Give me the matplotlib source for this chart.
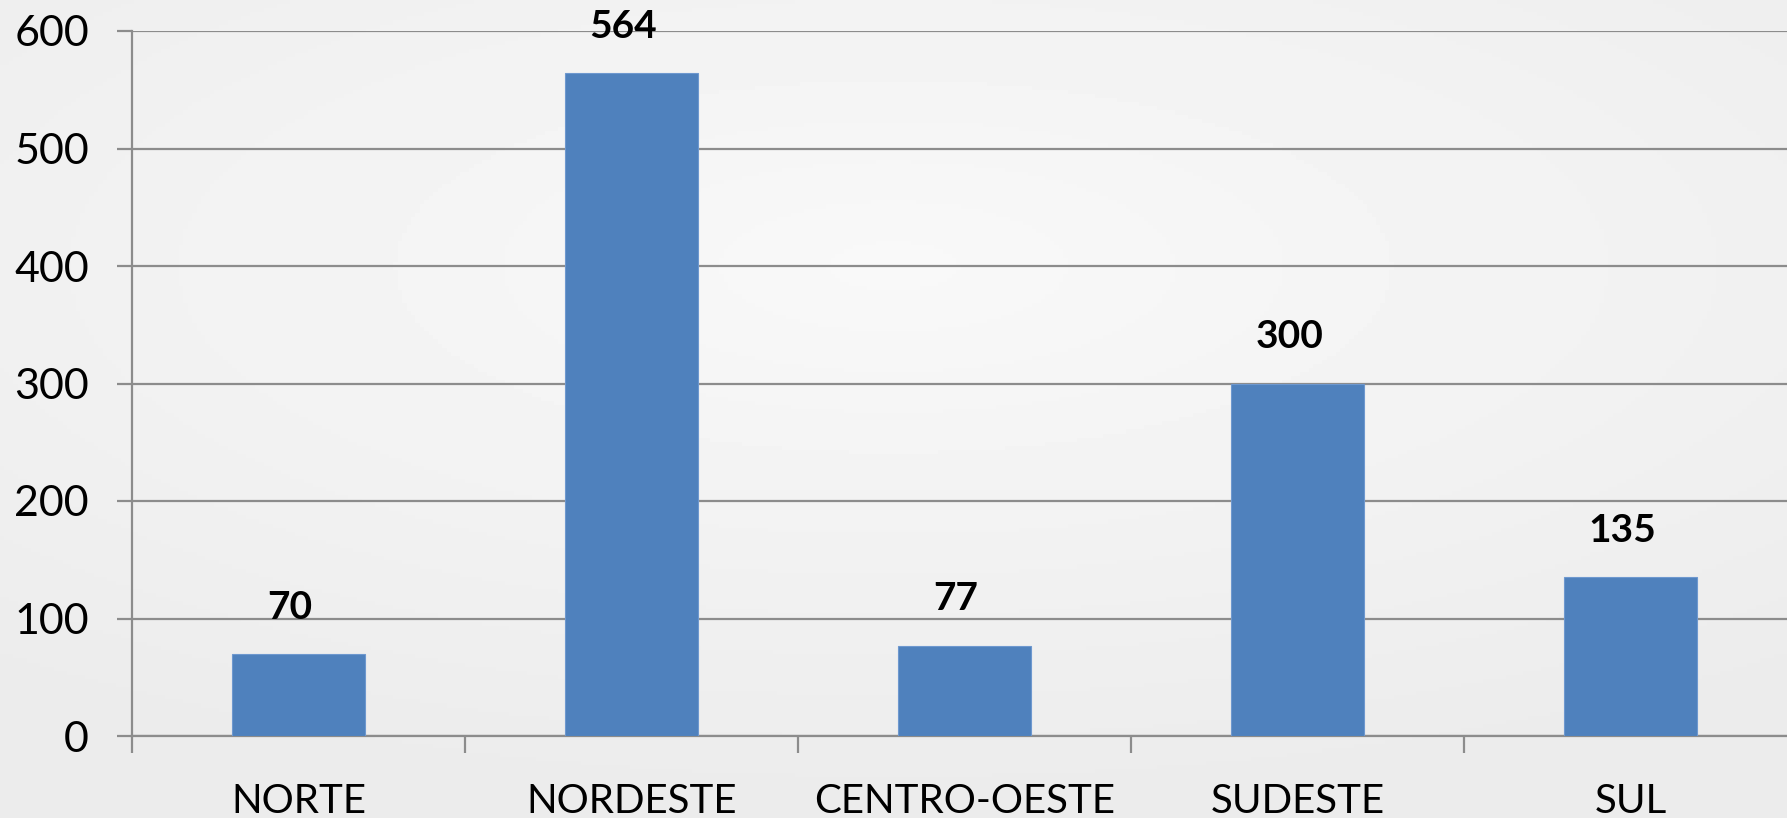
import numpy as np
import matplotlib
matplotlib.use("Agg")
import matplotlib.pyplot as plt

# Data
regions = ["NORTE", "NORDESTE", "CENTRO-OESTE", "SUDESTE", "SUL"]
counts = [70, 564, 77, 300, 135]
y_ticks = [0, 100, 200, 300, 400, 500, 600]

bar_color = "#4F81BD"
grid_color = "#8C8C8C"

plt.rcParams['font.family'] = ['Lato', 'DejaVu Sans']

fig = plt.figure(figsize=(17.87, 8.18), dpi=100)

# radial grey background
bg = fig.add_axes([0, 0, 1, 1], zorder=-10)
xx, yy = np.meshgrid(np.linspace(-1, 1, 400), np.linspace(-1, 1, 200))
r = np.sqrt((xx * 0.9) ** 2 + ((yy + 0.35) * 1.1) ** 2)
shade = 0.975 - 0.05 * np.clip(r, 0, 1.4) / 1.4
bg.imshow(shade, cmap="gray", vmin=0, vmax=1, aspect="auto", extent=[0, 1, 0, 1])
bg.axis("off")

ax = fig.add_axes([132 / 1787, 82 / 818, 1665 / 1787, 705 / 818])
ax.patch.set_alpha(0)

x = np.arange(len(regions))
ax.bar(x, counts, width=0.40, color=bar_color, edgecolor="#6E98CF", linewidth=0.8, zorder=3)

for xi, v in zip(x, counts):
    ax.annotate(str(v), (xi, v), xytext=(-6, 21), textcoords="offset points",
                ha="center", va="bottom", fontsize=28, fontweight="bold", color="black")

ax.set_xlim(-0.5, len(regions) - 0.5)
ax.set_ylim(0, 600)
ax.set_yticks(y_ticks)
ax.yaxis.grid(True, color=grid_color, linewidth=1.6, zorder=0)
ax.set_axisbelow(True)

ax.set_xticks(x)
ax.set_xticklabels(regions)
ax.set_xticks(np.arange(len(regions)) - 0.5, minor=True)

ax.tick_params(axis="x", which="major", length=0, pad=34, labelsize=29)
ax.tick_params(axis="x", which="minor", length=12, width=1.6, color=grid_color, direction="out")
ax.tick_params(axis="y", length=11, width=1.6, color=grid_color, pad=20, labelsize=31)

for s in ["top", "right"]:
    ax.spines[s].set_visible(False)
for s in ["left", "bottom"]:
    ax.spines[s].set_color(grid_color)
    ax.spines[s].set_linewidth(1.6)

fig.savefig("out.png", dpi=100)
